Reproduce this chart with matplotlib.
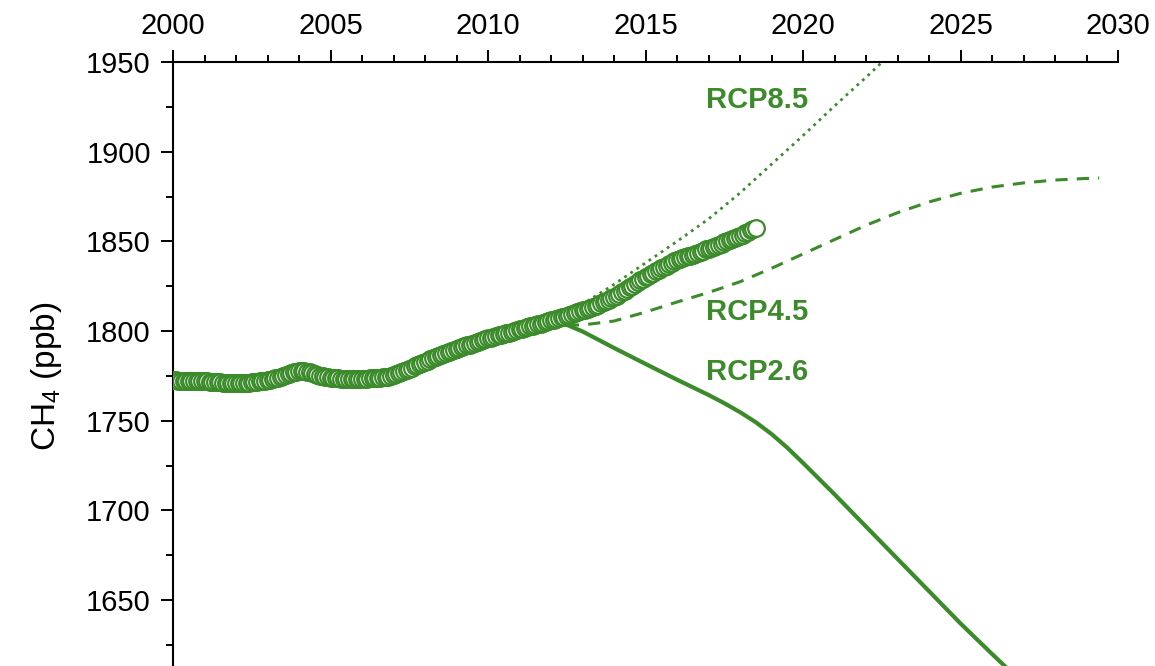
"""
CH4 observations vs RCP scenario projections
"""
import numpy as np
import matplotlib
matplotlib.use('Agg')
import matplotlib.pyplot as plt
from matplotlib.ticker import MultipleLocator

plt.rcParams['font.family'] = ['Liberation Sans', 'DejaVu Sans']
plt.rcParams['mathtext.default'] = 'regular'

green = '#3b8b2b'

# observed monthly CH4 (ppb), one row per year, starting Jan 2000
obs_start = 2000
ch4_obs = [
    [1772.6, 1772.5, 1772.4, 1772.3, 1772.2, 1772.1, 1772.0, 1772.0, 1772.0, 1772.0, 1772.0, 1772.0],
    [1772.0, 1771.9, 1771.8, 1771.7, 1771.6, 1771.5, 1771.4, 1771.3, 1771.2, 1771.1, 1771.0, 1771.0],
    [1771.0, 1771.0, 1771.0, 1771.1, 1771.2, 1771.3, 1771.4, 1771.6, 1771.8, 1772.0, 1772.2, 1772.4],
    [1772.6, 1772.9, 1773.3, 1773.7, 1774.1, 1774.6, 1775.1, 1775.6, 1776.1, 1776.6, 1777.0, 1777.3],
    [1777.5, 1777.6, 1777.6, 1777.4, 1777.1, 1776.7, 1776.2, 1775.7, 1775.2, 1774.8, 1774.4, 1774.2],
    [1774.0, 1773.8, 1773.7, 1773.6, 1773.5, 1773.5, 1773.5, 1773.5, 1773.5, 1773.5, 1773.5, 1773.5],
    [1773.5, 1773.5, 1773.5, 1773.6, 1773.7, 1773.8, 1773.9, 1774.0, 1774.2, 1774.4, 1774.6, 1775.0],
    [1775.5, 1776.0, 1776.6, 1777.2, 1777.8, 1778.4, 1779.0, 1779.6, 1780.3, 1781.0, 1781.7, 1782.4],
    [1783.0, 1783.6, 1784.2, 1784.8, 1785.4, 1786.0, 1786.6, 1787.2, 1787.8, 1788.4, 1789.0, 1789.5],
    [1790.0, 1790.5, 1791.0, 1791.5, 1792.0, 1792.5, 1793.0, 1793.5, 1794.0, 1794.5, 1795.0, 1795.5],
    [1796.0, 1796.4, 1796.8, 1797.2, 1797.6, 1798.0, 1798.4, 1798.8, 1799.2, 1799.6, 1800.0, 1800.5],
    [1801.0, 1801.4, 1801.8, 1802.2, 1802.6, 1803.0, 1803.4, 1803.8, 1804.2, 1804.6, 1805.0, 1805.5],
    [1806.0, 1806.4, 1806.8, 1807.2, 1807.6, 1808.0, 1808.5, 1809.0, 1809.5, 1810.0, 1810.5, 1811.0],
    [1811.5, 1812.0, 1812.5, 1813.0, 1813.6, 1814.2, 1814.8, 1815.4, 1816.0, 1816.8, 1817.5, 1818.2],
    [1819.0, 1819.8, 1820.7, 1821.6, 1822.5, 1823.4, 1824.3, 1825.2, 1826.2, 1827.2, 1828.2, 1829.1],
    [1830.0, 1830.9, 1831.7, 1832.5, 1833.3, 1834.1, 1834.9, 1835.7, 1836.5, 1837.3, 1838.0, 1838.8],
    [1839.5, 1840.1, 1840.6, 1841.1, 1841.6, 1842.1, 1842.6, 1843.1, 1843.7, 1844.3, 1844.9, 1845.5],
    [1846.0, 1846.5, 1847.0, 1847.6, 1848.2, 1848.8, 1849.4, 1850.0, 1850.6, 1851.2, 1851.8, 1852.4],
    [1853.0, 1853.8, 1854.6, 1855.4, 1856.2, 1857.0, 1857.5],
]

# RCP scenario projections (ppb)
rcp26_years = [2012.5, 2013, 2014, 2015, 2016, 2017, 2017.5, 2018, 2018.5, 2019, 2019.5,
               2020, 2021, 2022, 2023, 2024, 2025, 2026, 2026.6]
rcp26 = [1803.5, 1799.8, 1790.6, 1781.7, 1772.9, 1764.4, 1759.8, 1754.8, 1749.2, 1742.6, 1735.0,
         1726.5, 1709.0, 1691.0, 1673.0, 1655.0, 1637.0, 1620.0, 1610.0]

rcp45_years = [2012.5, 2013, 2014, 2015, 2016, 2017, 2018, 2019, 2020, 2021, 2022, 2023, 2024,
               2025, 2026, 2027, 2028, 2029, 2029.4]
rcp45 = [1803.4, 1803.4, 1805.6, 1810.6, 1816.2, 1821.5, 1827.5, 1835.0, 1843.0, 1851.0,
         1859.0, 1866.0, 1872.0, 1876.8, 1880.3, 1882.6, 1884.2, 1885.1, 1885.3]

rcp85_years = [2012.5, 2013, 2014, 2015, 2016, 2017, 2018, 2019, 2020, 2021, 2022, 2023]
rcp85 = [1805.0, 1815.0, 1826.0, 1838.0, 1850.0, 1862.5, 1877.0, 1893.0, 1909.0, 1925.5,
         1941.5, 1958.0]

labels = ['RCP8.5', 'RCP4.5', 'RCP2.6']
label_pos = [(2016.92, 1928.8), (2016.92, 1810.6), (2016.92, 1777.2)]


def main():
    obs = np.concatenate([np.array(row) for row in ch4_obs])
    obs_x = obs_start + np.arange(len(obs)) / 12.0

    fig = plt.figure(figsize=(11.55, 6.66), dpi=100)
    ax = fig.add_axes([0.1498, 0.0, 0.8182, 0.9069])

    ax.plot(rcp26_years, rcp26, '-', color=green, lw=3, zorder=2)
    ax.plot(rcp45_years, rcp45, color=green, lw=2.2, dashes=(4, 3), zorder=2)
    ax.plot(rcp85_years, rcp85, ':', color=green, lw=2, zorder=2)
    ax.plot(obs_x, obs, 'o', color=green, mfc='white', mec=green,
            markersize=12, markeredgewidth=1.6, zorder=3)

    for txt, (tx, ty) in zip(labels, label_pos):
        ax.text(tx, ty, txt, color=green, fontsize=21, fontweight='bold',
                ha='left', va='center')

    ax.set_xlim(2000, 2030)
    ax.set_ylim(1613.3, 1950)
    ax.xaxis.tick_top()
    ax.xaxis.set_label_position('top')
    ax.xaxis.set_major_locator(MultipleLocator(5))
    ax.xaxis.set_minor_locator(MultipleLocator(1))
    ax.yaxis.set_major_locator(MultipleLocator(50))
    ax.yaxis.set_minor_locator(MultipleLocator(25))

    ax.spines['right'].set_visible(False)
    ax.spines['bottom'].set_visible(False)
    for s in ['top', 'left']:
        ax.spines[s].set_linewidth(1.5)

    ax.tick_params(axis='both', which='major', direction='out', length=9,
                   width=1.4, labelsize=21, pad=7)
    ax.tick_params(axis='both', which='minor', direction='out', length=5,
                   width=1.4)

    ax.set_ylabel('CH$_4$ (ppb)', fontsize=24)
    ax.yaxis.set_label_coords(-0.115, 0.48)

    fig.savefig('out.png', dpi=100)


if __name__ == "__main__":
    main()
